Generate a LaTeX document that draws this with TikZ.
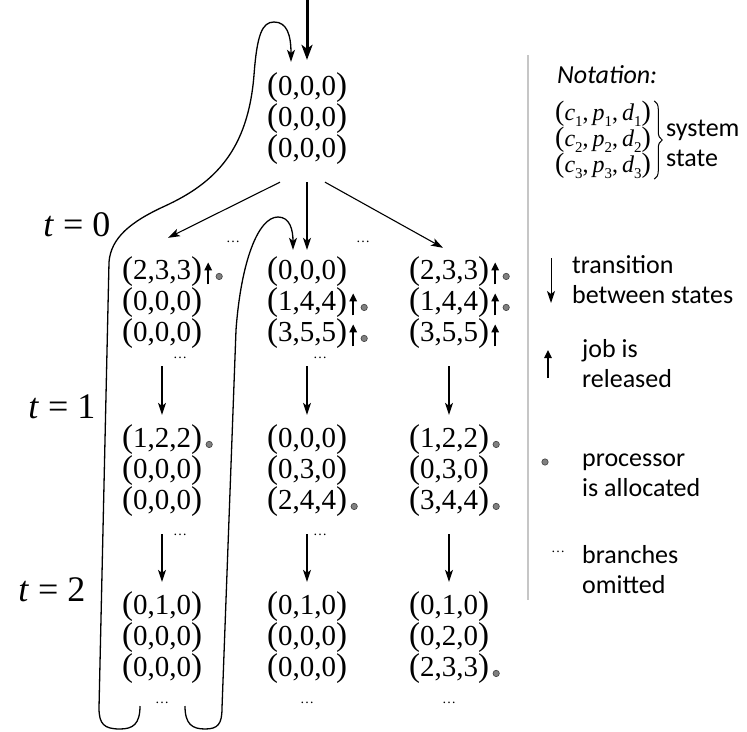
\documentclass[tikz,border=0pt]{standalone}
\usepackage{fontspec}
\setmainfont{Liberation Serif}
\newfontfamily\calfont{Carlito}
\usetikzlibrary{arrows.meta,decorations.pathreplacing}
\newcommand\sbs[1]{\raisebox{-0.28em}{\fontsize{15}{15}\selectfont #1}}
\newcommand\tup[1]{\raisebox{-0.5pt}{\fontsize{33}{33}\selectfont(}#1\raisebox{-0.5pt}{\fontsize{33}{33}\selectfont)}}
\newcommand\ltup[1]{\raisebox{-0.5pt}{\fontsize{28}{28}\selectfont(}#1\raisebox{-0.5pt}{\fontsize{28}{28}\selectfont)}}
\newcommand\relmark[2]{\draw[relarr] ([xshift=#2,yshift=-5pt]#1.base east) -- ([xshift=#2,yshift=17pt]#1.base east);}
\newcommand\allocmark[2]{\draw[alloc] ([xshift=#2,yshift=3pt]#1.base east) circle (3.2pt);}
\begin{document}
\begin{tikzpicture}[x=1pt,y=-1pt,
  st/.style={inner sep=0pt,font=\fontsize{29}{29}\selectfont},
  tlab/.style={inner sep=0pt,font=\fontsize{36}{36}\selectfont},
  dts/.style={inner sep=0pt,font=\fontsize{14}{14}\selectfont},
  leg/.style={inner sep=0pt,anchor=west,align=left,font=\calfont\fontsize{26}{30}\selectfont},
  tr/.style={line width=1.1pt,-{Stealth[length=12pt,width=8pt,inset=3pt]}},
  thickarr/.style={line width=3pt,-{Stealth[length=15pt,width=11pt,inset=4pt]}},
  loopline/.style={line width=1.3pt,-{Stealth[length=12pt,width=8pt,inset=3pt]}},
  relarr/.style={line width=1.4pt,-{Triangle[length=8pt,width=7.5pt]}},
  alloc/.style={fill=gray,draw=black!75,line width=0.6pt},
]
\useasboundingbox (0,0) rectangle (747,731);

% root
\node[st] (r1) at (307,88) {\tup{0,0,0}};
\node[st] (r2) at (307,119) {\tup{0,0,0}};
\node[st] (r3) at (307,150) {\tup{0,0,0}};
\coordinate (entry) at (307,0);
\draw[thickarr] (entry) -- ([yshift=13pt]r1.north);

% level 1
\node[st] (L1a) at (162,272) {\tup{2,3,3}};
\node[st] (L1b) at (162,303) {\tup{0,0,0}};
\node[st] (L1c) at (162,334) {\tup{0,0,0}};
\node[st] (M1a) at (307,272) {\tup{0,0,0}};
\node[st] (M1b) at (307,303) {\tup{1,4,4}};
\node[st] (M1c) at (307,334) {\tup{3,5,5}};
\node[st] (R1a) at (449,272) {\tup{2,3,3}};
\node[st] (R1b) at (449,303) {\tup{1,4,4}};
\node[st] (R1c) at (449,334) {\tup{3,5,5}};
\relmark{L1a}{6pt}\allocmark{L1a}{17pt}
\relmark{M1b}{6pt}\allocmark{M1b}{17pt}
\relmark{M1c}{6pt}\allocmark{M1c}{17pt}
\relmark{R1a}{6pt}\allocmark{R1a}{17pt}
\relmark{R1b}{6pt}\allocmark{R1b}{17pt}
\relmark{R1c}{6pt}

% level 2
\node[st] (L2a) at (162,440) {\tup{1,2,2}};
\node[st] (L2b) at (162,471) {\tup{0,0,0}};
\node[st] (L2c) at (162,502) {\tup{0,0,0}};
\node[st] (M2a) at (307,440) {\tup{0,0,0}};
\node[st] (M2b) at (307,471) {\tup{0,3,0}};
\node[st] (M2c) at (307,502) {\tup{2,4,4}};
\node[st] (R2a) at (449,440) {\tup{1,2,2}};
\node[st] (R2b) at (449,471) {\tup{0,3,0}};
\node[st] (R2c) at (449,502) {\tup{3,4,4}};
\allocmark{L2a}{7pt}
\allocmark{M2c}{7pt}
\allocmark{R2a}{7pt}
\allocmark{R2c}{7pt}

% level 3
\node[st] (L3a) at (162,607) {\tup{0,1,0}};
\node[st] (L3b) at (162,638) {\tup{0,0,0}};
\node[st] (L3c) at (162,669) {\tup{0,0,0}};
\node[st] (M3a) at (307,607) {\tup{0,1,0}};
\node[st] (M3b) at (307,638) {\tup{0,0,0}};
\node[st] (M3c) at (307,669) {\tup{0,0,0}};
\node[st] (R3a) at (449,607) {\tup{0,1,0}};
\node[st] (R3b) at (449,638) {\tup{0,2,0}};
\node[st] (R3c) at (449,669) {\tup{2,3,3}};
\allocmark{R3c}{7pt}

% time labels
\node[tlab] (t0) at (77,225) {\textit{t} = 0};
\node[tlab] (t1) at (62,407) {\textit{t} = 1};
\node[tlab] (t2) at (52,590) {\textit{t} = 2};

% omitted branches
\node[dts] (d0a) at (233,242) {…};
\node[dts] (d0b) at (363,242) {…};
\node[dts] (d1a) at (180,358) {…};
\node[dts] (d1b) at (320,358) {…};
\node[dts] (d2a) at (180,535) {…};
\node[dts] (d2b) at (320,535) {…};
\node[dts] (d3a) at (162,703) {…};
\node[dts] (d3b) at (307,703) {…};
\node[dts] (d3c) at (449,703) {…};

% transitions t=0
\draw[tr] ([xshift=-27pt,yshift=-17pt]r3.south) -- ([xshift=6pt,yshift=19pt]L1a.north);
\draw[tr] ([yshift=-17pt]r3.south) -- ([yshift=7pt]M1a.north);
\draw[tr] ([xshift=18pt,yshift=-17pt]r3.south) -- ([xshift=-6pt,yshift=9pt]R1a.north);
% transitions t=1
\draw[tr] ([yshift=-17pt]L1c.south) -- ([yshift=10pt]L2a.north);
\draw[tr] ([yshift=-17pt]M1c.south) -- ([yshift=10pt]M2a.north);
\draw[tr] ([yshift=-17pt]R1c.south) -- ([yshift=10pt]R2a.north);
% transitions t=2
\draw[tr] ([yshift=-17pt]L2c.south) -- ([yshift=10pt]L3a.north);
\draw[tr] ([yshift=-17pt]M2c.south) -- ([yshift=10pt]M3a.north);
\draw[tr] ([yshift=-17pt]R2c.south) -- ([yshift=10pt]R3a.north);

% loops back
\coordinate (hookA) at (140,706);
\coordinate (hookB) at (185,706);
\draw[loopline] (hookA) .. controls (140,724) and (133,729) .. (120,729)
  .. controls (104,729) and (99,724) .. (99,708)
  -- (109,262)
  .. controls (111,238) and (130,222) .. (165,206)
  .. controls (215,183) and (248,150) .. (254,75)
  .. controls (257,35) and (262,22) .. (274,22)
  .. controls (287,22) and (291,35) .. ([xshift=-16pt,yshift=11pt]r1.north);
\draw[loopline] (hookB) .. controls (185,724) and (192,729) .. (205,729)
  .. controls (218,729) and (222,724) .. (222,708)
  -- (236,330)
  .. controls (241,262) and (258,217) .. (278,217)
  .. controls (290,217) and (293,230) .. ([xshift=-14pt,yshift=7pt]M1a.north);

% legend
\draw[gray!45,line width=2pt] (528,55) -- (528,600);
\node[leg,font=\calfont\itshape\fontsize{26}{30}\selectfont] (notation) at (557,75) {Notation:};
\node[inner sep=0pt,anchor=west,align=left,font=\fontsize{24}{26}\selectfont] (legst) at (555,140)
  {\ltup{\textit{c}\sbs{1},\,\textit{p}\sbs{1},\,\textit{d}\sbs{1}}\\\ltup{\textit{c}\sbs{2},\,\textit{p}\sbs{2},\,\textit{d}\sbs{2}}\\\ltup{\textit{c}\sbs{3},\,\textit{p}\sbs{3},\,\textit{d}\sbs{3}}};
\draw[line width=1pt,decorate,decoration={brace,amplitude=8pt}] ([xshift=3pt]legst.north east) -- ([xshift=3pt]legst.south east);
\node[leg] (lsys) at (666,143) {system\\state};

\coordinate (la1) at (551,258);
\coordinate (la2) at (551,303);
\draw[tr,line width=1pt] (la1) -- (la2);
\node[leg] (ltrans) at (572,280) {transition\\between states};

\coordinate (lu1) at (548,378);
\coordinate (lu2) at (548,350);
\draw[relarr] (lu1) -- (lu2);
\node[leg] (ljob) at (582,364) {job is\\released};

\coordinate (ld) at (545,462);
\draw[alloc] (ld) circle (3.2pt);
\node[leg] (lproc) at (582,475) {processor\\is allocated};

\node[dts] (ldots) at (558,552) {…};
\node[leg] (lbr) at (582,570) {branches\\omitted};
\end{tikzpicture}
\end{document}
